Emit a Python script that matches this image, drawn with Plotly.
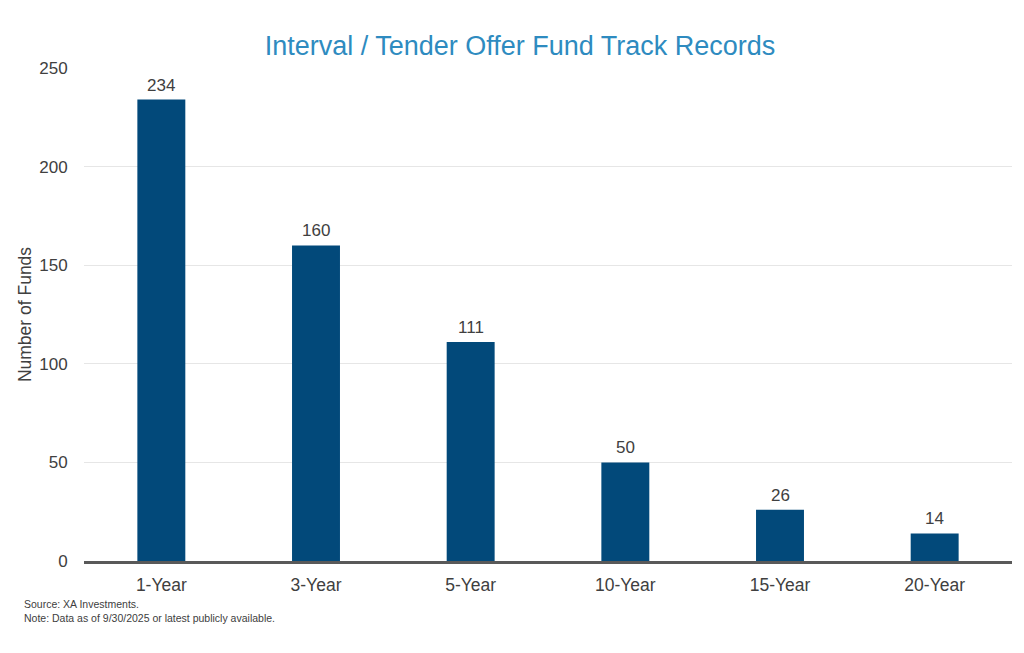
import plotly.graph_objects as go

categories = ["1-Year", "3-Year", "5-Year", "10-Year", "15-Year", "20-Year"]
fund_counts = [234, 160, 111, 50, 26, 14]
y_ticks = [0, 50, 100, 150, 200, 250]

FONT = "Liberation Sans, Arial"

fig = go.Figure()
fig.add_trace(go.Bar(
    x=categories, y=fund_counts,
    marker=dict(color="#02497A", line=dict(width=0)),
    width=0.31,
))

for c, v in zip(categories, fund_counts):
    fig.add_annotation(
        x=c, y=v, xref="x", yref="y", text=str(v), showarrow=False,
        yanchor="bottom", yshift=3,
        font=dict(size=17, color="#404040", family=FONT),
    )

fig.update_layout(
    width=1024, height=653,
    paper_bgcolor="white", plot_bgcolor="white",
    margin=dict(l=76, r=20, t=60, b=100),
    font=dict(family=FONT, color="#404040"),
    title=dict(text="Interval / Tender Offer Fund Track Records",
               x=0.5, xanchor="center", y=0.942, yanchor="middle",
               font=dict(size=27, color="#2E8BC0")),
    showlegend=False,
)
fig.update_xaxes(
    showline=True, linecolor="#595959", linewidth=3,
    ticks="outside", ticklen=6, tickcolor="rgba(0,0,0,0)",
    tickfont=dict(size=17.5, color="#404040"),
)
fig.update_yaxes(
    range=[0, 250], tickvals=y_ticks,
    showgrid=True, gridcolor="#E6E6E6", gridwidth=1,
    zeroline=False, showline=False,
    ticks="outside", ticklen=12, tickcolor="rgba(0,0,0,0)",
    tickfont=dict(size=17, color="#404040"),
    title=dict(text="Number of Funds", font=dict(size=17.5, color="#404040"), standoff=3),
)
fig.add_annotation(
    text="Source: XA Investments.<br>Note: Data as of 9/30/2025 or latest publicly available.",
    xref="paper", yref="paper", x=-0.0668, y=-0.071, xanchor="left", yanchor="top",
    showarrow=False, align="left", font=dict(size=10.5, color="#404040"),
)
fig.write_html("out.html")
